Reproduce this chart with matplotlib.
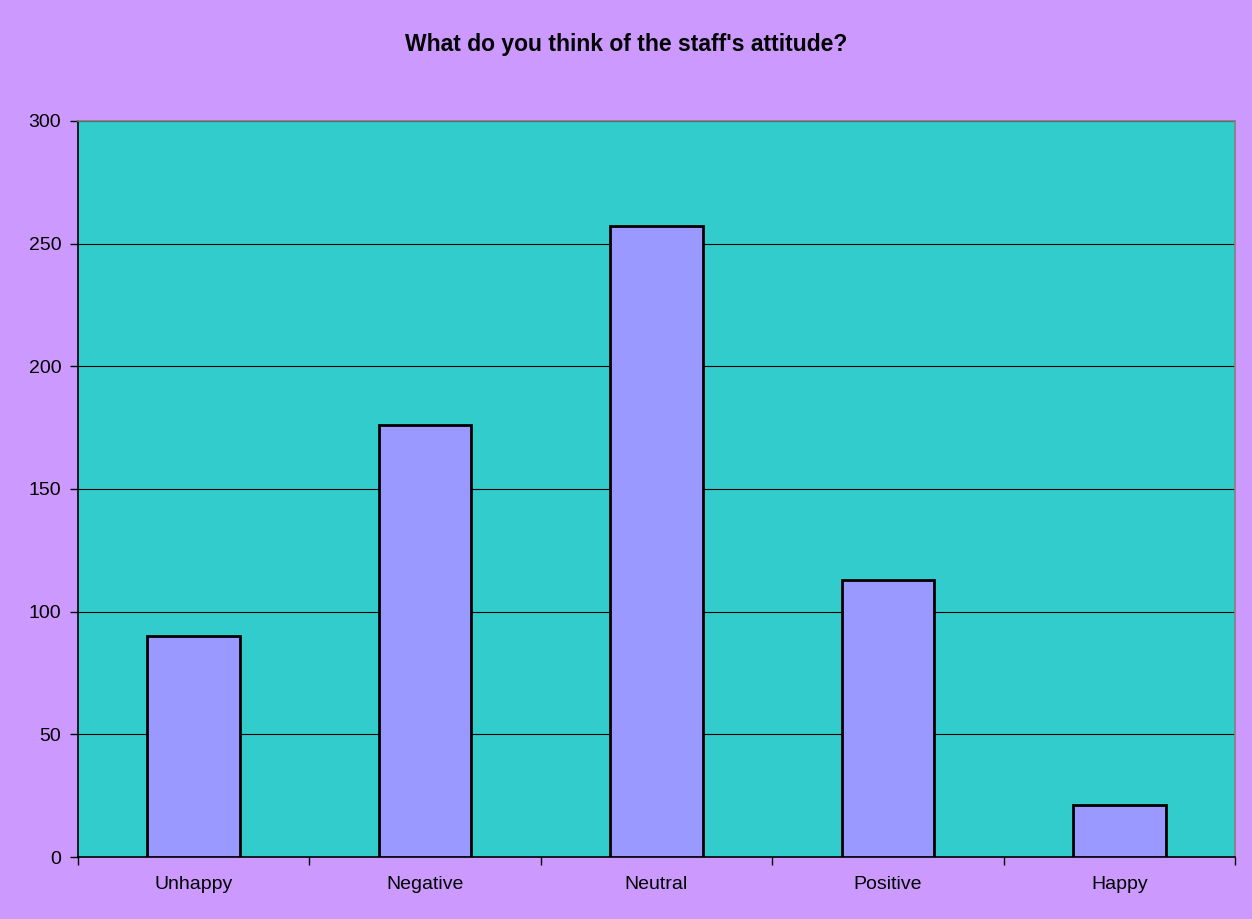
import matplotlib
matplotlib.use('Agg')
import matplotlib.pyplot as plt

categories = ['Unhappy', 'Negative', 'Neutral', 'Positive', 'Happy']
counts = [90, 176, 257, 113, 21]
yticks = [0, 50, 100, 150, 200, 250, 300]

plt.rcParams['font.family'] = ['Liberation Sans', 'DejaVu Sans']

fig = plt.figure(figsize=(12.52, 9.19), dpi=100)
fig.patch.set_facecolor('#CC99FF')
ax = fig.add_axes([78 / 1252, 1 - 857 / 919, (1235 - 78) / 1252, (857 - 121) / 919])
ax.set_facecolor('#33CCCC')

x = range(len(categories))
ax.bar(x, counts, width=0.4, color='#9999FF', edgecolor='black', linewidth=2, zorder=3)

ax.set_xlim(-0.5, len(categories) - 0.5)
ax.set_ylim(0, 300)
ax.set_yticks(yticks)
ax.set_yticklabels([str(v) for v in yticks], fontsize=14)
ax.yaxis.grid(True, color='black', linewidth=0.8, zorder=1)
ax.set_axisbelow(True)

# category labels centred, tick marks between categories
ax.set_xticks(list(x))
ax.set_xticklabels(categories, fontsize=14)
ax.tick_params(axis='x', length=0, pad=14)
ax.set_xticks([i - 0.5 for i in range(len(categories) + 1)], minor=True)
ax.tick_params(axis='x', which='minor', length=6, width=1, color='black')
ax.tick_params(axis='y', length=6, width=1, color='black', pad=6)

ax.spines['left'].set_color('black')
ax.spines['bottom'].set_color('black')
ax.spines['top'].set_color('#808080')
ax.spines['right'].set_color('#808080')
for s in ax.spines.values():
    s.set_linewidth(1.2)

fig.text(0.5, 1 - 45 / 919, "What do you think of the staff's attitude?",
         ha='center', va='center', fontsize=16.5, fontweight='bold')

fig.savefig('out.png', dpi=100, facecolor=fig.get_facecolor())
